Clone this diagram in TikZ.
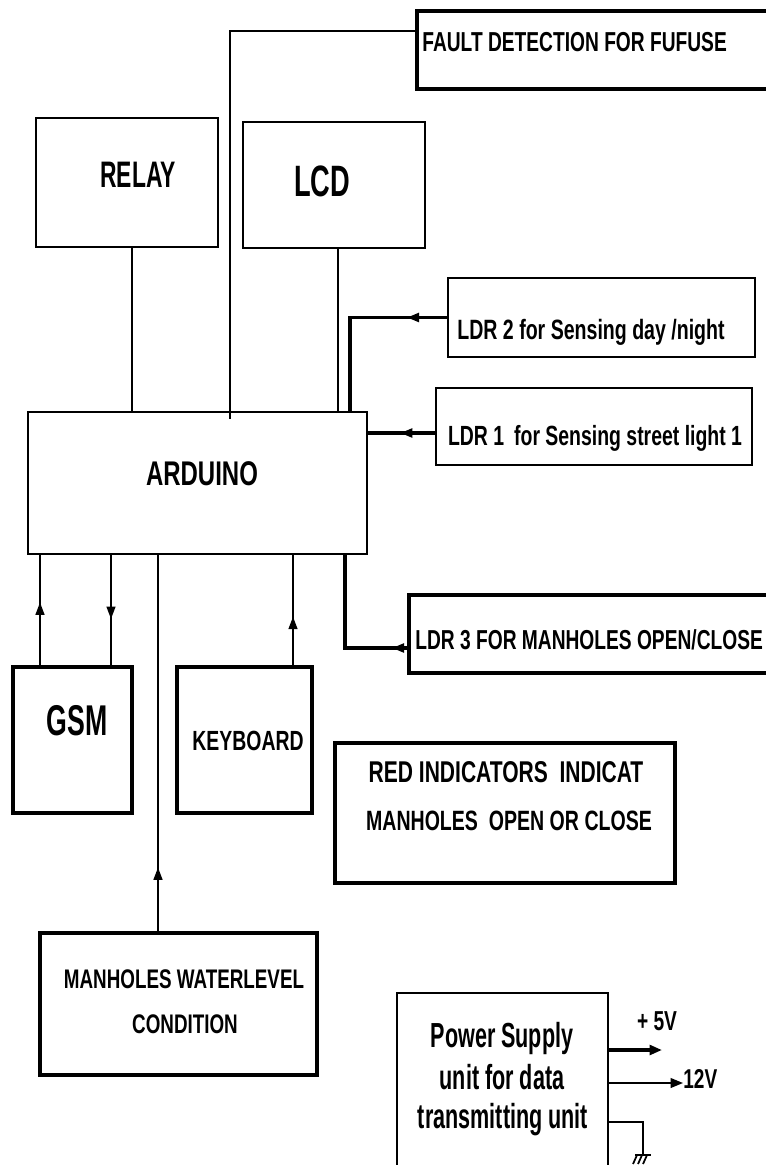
\documentclass[tikz,border=0pt]{standalone}
\usepackage{fontspec}
\newfontfamily\narrowfont[FakeStretch=0.7]{Liberation Sans}
\newfontfamily\condfont[FakeStretch=0.62]{Liberation Sans}
\usetikzlibrary{positioning, calc, arrows.meta, decorations.markings}

\tikzset{
  blk/.style 2 args={draw, line width=1.4pt, minimum width=#1*0.02cm,
    minimum height=#2*0.02cm, inner sep=0pt},
  lbl/.style={font=\narrowfont\bfseries\fontsize{#1pt}{#1pt}\selectfont,
    inner sep=0pt, anchor=base},
  clbl/.style={font=\condfont\bfseries\fontsize{#1pt}{#1pt}\selectfont,
    inner sep=0pt, anchor=base},
  wire/.style={line width=1pt},
  bus/.style={line width=2pt},
  tip/.style={-{Triangle[length=7pt,width=5.5pt]}},
  midarr/.style={postaction={decorate}, decoration={markings,
    mark=at position #1 with {\arrow{Triangle[length=7pt,width=5pt]}}}},
}

\begin{document}
\begin{tikzpicture}[x=0.02cm, y=-0.02cm]
  \useasboundingbox (0,0) rectangle (766,1165);
  \clip (0,0) rectangle (766,1165);

  % -- blocks (pixel grid, y down) --
  \node[blk={383}{78}, line width=1.9pt] (fault) at (608.5,50) {};
  \node[blk={182}{129}] (relay) at (127,182.5) {};
  \node[blk={182}{126}] (lcd) at (334,185) {};
  \node[blk={307}{79}] (ldr2) at (601.5,317.5) {};
  \node[blk={316}{77}] (ldr1) at (594,426.5) {};
  \node[blk={339}{142}] (ardu) at (197.5,483) {};
  \node[blk={411}{78}, line width=1.8pt] (ldr3) at (614.5,634) {};
  \node[blk={119}{146}, line width=2.2pt] (gsm) at (72.5,740) {};
  \node[blk={135}{146}, line width=2.2pt] (kbd) at (244.5,740) {};
  \node[blk={340}{140}, line width=2pt] (red) at (505,813) {};
  \node[blk={277}{142}, line width=1.8pt] (water) at (178.5,1004) {};
  \node[blk={211}{207}] (power) at (502.5,1096.5) {};

  % -- texts --
  \node[lbl=15.6, anchor=base west] (faulttxt) at (422,52) {FAULT DETECTION FOR FUFUSE};
  \node[clbl=21] (relaytxt) at (138,188) {RELAY};
  \node[clbl=25] (lcdtxt) at (322,197) {LCD};
  \node[lbl=15.9] (ldr2txt) at (591,340) {LDR 2 for Sensing day /night};
  \node[lbl=15.8] (ldr1txt) at (595,445) {LDR 1\, for Sensing street light 1};
  \node[lbl=19.5] (ardutxt) at (202,485) {ARDUINO};
  \node[lbl=15.6, anchor=base west] (ldr3txt) at (415,649) {LDR 3 FOR MANHOLES OPEN/CLOSE};
  \node[clbl=24.5] (gsmtxt) at (77,735) {GSM};
  \node[lbl=15.8] (kbdtxt) at (248,750) {KEYBOARD};
  \node[lbl=17.1] (redtxta) at (506,782) {RED INDICATORS\ \ INDICAT};
  \node[lbl=15.9] (redtxtb) at (509,830) {MANHOLES\ \ OPEN OR CLOSE};
  \node[lbl=15.3] (watertxta) at (184,988) {MANHOLES WATERLEVEL};
  \node[lbl=15.3] (watertxtb) at (185,1033) {CONDITION};
  \node[clbl=19.8] (powtxta) at (502,1047) {Power Supply};
  \node[clbl=19.8] (powtxtb) at (502,1089) {unit for data};
  \node[clbl=19.8] (powtxtc) at (503,1128) {transmitting unit};
  \node[lbl=15.6] (v5txt) at (657,1030) {+ 5V};
  \node[lbl=15.5, anchor=base west] (v12) at (683,1088) {12V};

  % -- upper connectors --
  \draw[wire] (fault.west |- 0,31) -| ($(ardu.north -| 230,0)+(0,8)$);
  \draw[wire] (relay.south -| 132,0) -- (ardu.north -| 132,0);
  \draw[wire] (lcd.south -| 338,0) -- (ardu.north -| 338,0);
  \draw[bus, midarr=0.21] (ldr2.west) -| (ardu.north -| 350,0);
  \draw[bus, midarr=0.52] (ldr1.west |- 0,433) -- (ardu.east |- 0,433);

  % -- lower connectors --
  \draw[wire, midarr=0.57] (gsm.north -| 40,0) -- (ardu.south -| 40,0);
  \draw[wire, midarr=0.58] (ardu.south -| 111,0) -- (gsm.north -| 111,0);
  \draw[wire, midarr=0.44] (kbd.north -| 293,0) -- (ardu.south -| 293,0);
  \draw[wire, midarr=0.17] (water.north -| 158,0) -- (ardu.south -| 158,0);
  \draw[bus, midarr=0.1] (ldr3.west |- 0,648) -| (ardu.south -| 345,0);

  % -- supply outputs --
  \coordinate (v5) at (662,1050);
  \coordinate (gnd) at (643,1155);
  \draw[bus, tip] (power.east |- v5) -- (v5);
  \draw[wire, tip] (power.east |- 0,1083) -- (v12.west |- 0,1083);
  \draw[wire] (power.east |- 0,1122) -| (gnd);
  \draw[wire] (gnd) ++(-8,0) -- ++(16,0);
  \foreach \dx in {-6,-1,4}
    \draw[wire] (gnd) ++(\dx,0) -- ++(-4,9);
\end{tikzpicture}
\end{document}
